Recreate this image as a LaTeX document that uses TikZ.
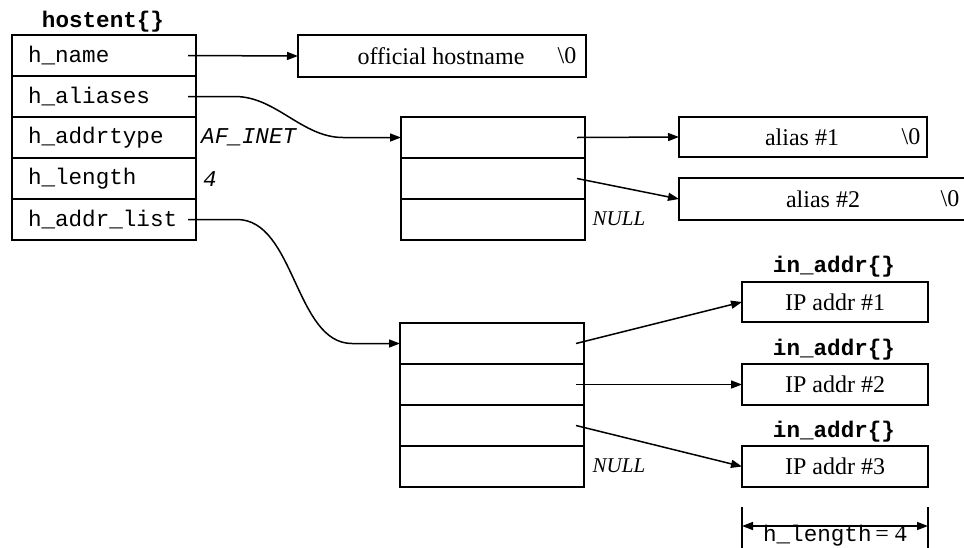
\documentclass[tikz,border=0pt]{standalone}
\usepackage{fontspec}
\setmainfont{Liberation Serif}
\setmonofont{Liberation Mono}
\usetikzlibrary{arrows.meta,calc}
\newcommand\monof{\ttfamily\fontsize{22.6}{26}\selectfont}
\newcommand\seriff{\rmfamily\fontsize{24}{28}\selectfont}
\begin{document}
\begin{tikzpicture}[x=1pt,y=-1pt,
  cell/.style={draw,line width=2pt,minimum width=184pt,minimum height=41pt,inner sep=0pt,outer sep=0pt,anchor=north west},
  hcell/.style={cell,text width=152pt,align=left,font=\monof},
  sbox/.style={draw,line width=2pt,inner sep=0pt,outer sep=0pt,anchor=north west},
  stext/.style={font=\seriff,inner sep=0pt},
  mtext/.style={font=\monof,inner sep=0pt},
  lbl/.style={font=\ttfamily\bfseries\fontsize{22.6}{26}\selectfont,inner sep=0pt},
  nulltext/.style={font=\rmfamily\itshape\fontsize{21}{24}\selectfont,inner sep=0pt},
  arr/.style={line width=1.5pt,-{Triangle[length=11pt,width=8pt]}},
  dimarr/.style={line width=1.5pt,{Triangle[length=11pt,width=8pt]}-{Triangle[length=11pt,width=8pt]}}
]
\clip (0,0) rectangle (964,547);
\fill[white] (0,0) rectangle (964,547);

% hostent structure
\node[lbl] (title) at (103,22) {hostent\{\}};
\node[hcell] (hname) at (12,35) {h\_name};
\node[hcell] (haliases) at (12,76) {h\_aliases};
\node[hcell] (haddrtype) at (12,117) {h\_addrtype};
\node[hcell] (hlength) at (12,158) {h\_length};
\node[hcell] (haddrlist) at (12,199) {h\_addr\_list};
\node[mtext,font=\monof\itshape,anchor=west] (afinet) at (201,137) {AF\_INET};
\node[mtext,font=\monof\itshape,anchor=west] (four) at (203,179) {4};

% official hostname
\node[sbox,minimum width=288pt,minimum height=42pt] (official) at (298,35) {};
\node[stext] (offtxt) at (441,56) {official hostname};
\node[stext] (offnul) at (567,56) {\textbackslash 0};

% alias pointer array
\node[cell] (a1) at (401,117) {};
\node[cell] (a2) at (401,158) {};
\node[cell] (a3) at (401,199) {};
\node[nulltext] (null1) at (619,219) {NULL};

% alias strings
\node[sbox,minimum width=248pt,minimum height=40pt] (alias1) at (679,117) {};
\node[stext] (al1txt) at (802,137) {alias \#1};
\node[stext] (al1nul) at (911,137) {\textbackslash 0};
\node[sbox,minimum width=310pt,minimum height=42pt] (alias2) at (679,178) {};
\node[stext] (al2txt) at (823,199) {alias \#2};
\node[stext] (al2nul) at (950,199) {\textbackslash 0};

% address pointer array
\node[cell] (b1) at (400,323) {};
\node[cell] (b2) at (400,364) {};
\node[cell] (b3) at (400,405) {};
\node[cell] (b4) at (400,446) {};
\node[nulltext] (null2) at (619,466) {NULL};

% in_addr structures
\node[lbl] (lab1) at (834,267) {in\_addr\{\}};
\node[sbox,minimum width=186pt,minimum height=40pt] (ip1) at (742,282) {};
\node[stext] (ip1txt) at (ip1.center) {IP addr \#1};
\node[lbl] (lab2) at (834,350) {in\_addr\{\}};
\node[sbox,minimum width=186pt,minimum height=41pt] (ip2) at (742,364) {};
\node[stext] (ip2txt) at (ip2.center) {IP addr \#2};
\node[lbl] (lab3) at (834,432) {in\_addr\{\}};
\node[sbox,minimum width=186pt,minimum height=41pt] (ip3) at (742,446) {};
\node[stext] (ip3txt) at (ip3.center) {IP addr \#3};

% connectors
\draw[arr] ([xshift=-8pt]hname.east) -- (official.west);
\draw[arr] ([xshift=-8pt]haliases.east) -- (235,96.5)
  .. controls (276,96.5) and (302,137.5) .. (343,137.5) -- (a1.west);
\draw[arr] ([xshift=-8pt]haddrlist.east) -- (237,219.5)
  .. controls (295,219.5) and (295,343.5) .. (352,343.5) -- (b1.west);
\draw[arr] ([xshift=-8pt]a1.east) -- (alias1.west);
\draw[arr] ([xshift=-8pt]a2.east) -- (alias2.west);
\draw[arr] ([xshift=-8pt]b1.east) -- (ip1.west);
\draw[arr] ([xshift=-8pt]b2.east) -- (ip2.west);
\draw[arr] ([xshift=-8pt]b3.east) -- (ip3.west);

% dimension
\coordinate (dl) at (742,526);
\coordinate (dr) at (928,526);
\coordinate (dlt) at (742,507);
\coordinate (drt) at (928,507);
\coordinate (dlb) at (742,550);
\coordinate (drb) at (928,550);
\draw[line width=2pt] (dlt) -- (dlb);
\draw[line width=2pt] (drt) -- (drb);
\draw[dimarr] (dl) -- (dr);
\node[anchor=base,inner sep=0pt] (hlen) at (835,541) {\monof h\_length\,\seriff= 4};
\end{tikzpicture}
\end{document}
